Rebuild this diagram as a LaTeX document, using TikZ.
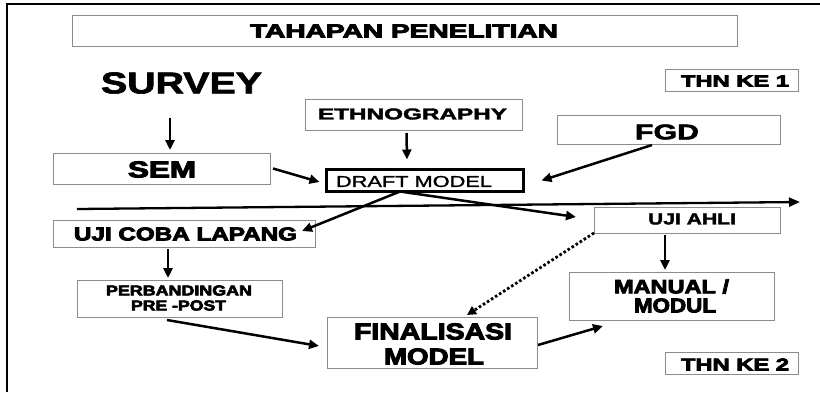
\documentclass[tikz,border=0pt]{standalone}
\usepackage{fontspec}
\setmainfont{Liberation Sans}
\newfontfamily\heavyfont[FakeBold=4]{Liberation Sans Bold}
\newfontfamily\boldfont[FakeBold=2]{Liberation Sans Bold}
\newfontfamily\regfont[FakeBold=1.2]{Liberation Sans}
\usetikzlibrary{arrows.meta}
\newcommand{\fittxt}[4]{\resizebox{#1pt}{#2pt}{#3#4}}
\tikzset{
  box/.style={draw=black!45, line width=0.9pt, inner sep=0pt, outer sep=0pt, fill=none},
  lbl/.style={inner sep=0pt, outer sep=0pt},
  arr/.style={line width=2.5pt, -{Triangle[length=10pt,width=9pt]}},
  dotarr/.style={line width=2.8pt, dash pattern=on 2.6pt off 2.2pt, -{Triangle[length=9pt,width=9pt]}}
}
\begin{document}
\begin{tikzpicture}[x=1pt,y=-1pt]
\useasboundingbox (0,0) rectangle (820,392);
\fill[white] (0,0) rectangle (820,392);
% outer frame
\draw[line width=1.6pt] (7,392) -- (7,4) -- (820,4);

% boxes
\node[box, minimum width=665pt, minimum height=31pt] (title) at (404.5,30.5) {};
\node[box, minimum width=217pt, minimum height=31pt] (sem) at (161.5,168.5) {};
\node[box, minimum width=217pt, minimum height=31pt] (ethno) at (413.5,114.5) {};
\node[draw=black, line width=3.2pt, inner sep=0pt, outer sep=0pt, minimum width=197pt, minimum height=22pt] (draft) at (425,180.5) {};
\node[box, minimum width=223pt, minimum height=29pt] (fgd) at (668.5,129.5) {};
\node[box, minimum width=133pt, minimum height=22pt] (thn1) at (731.5,80) {};
\node[box, minimum width=262pt, minimum height=27pt] (ujicoba) at (184,233.5) {};
\node[box, minimum width=205pt, minimum height=37pt] (perb) at (179.5,298.5) {};
\node[box, minimum width=210pt, minimum height=51pt] (final) at (432,342.5) {};
\node[box, minimum width=186pt, minimum height=26pt] (ujiahli) at (687,220) {};
\node[box, minimum width=205pt, minimum height=48pt] (manual) at (671.5,296) {};
\node[box, minimum width=133pt, minimum height=22pt] (thn2) at (731.5,363) {};

% labels
\node[lbl] (titleT) at (404,31) {\fittxt{308}{13}{\heavyfont}{TAHAPAN PENELITIAN}};
\node[lbl] (survey) at (181.5,83) {\fittxt{161}{21}{\boldfont}{SURVEY}};
\node[lbl] (semT) at (162,169.5) {\fittxt{68}{16}{\heavyfont}{SEM}};
\node[lbl] (ethnoT) at (412.5,114) {\fittxt{189}{11}{\boldfont}{ETHNOGRAPHY}};
\node[lbl] (draftT) at (414,181.5) {\fittxt{156}{11}{\regfont}{DRAFT MODEL}};
\node[lbl] (fgdT) at (667,132) {\fittxt{64}{15}{\boldfont}{FGD}};
\node[lbl] (thn1T) at (735,81) {\fittxt{108}{11}{\heavyfont}{THN KE 1}};
\node[lbl] (ujicobaT) at (185.5,234) {\fittxt{223}{13}{\heavyfont}{UJI COBA LAPANG}};
\node[lbl] (perbT1) at (179,290.5) {\fittxt{146}{10}{\heavyfont}{PERBANDINGAN}};
\node[lbl] (perbT2) at (178.5,305.5) {\fittxt{95}{10}{\heavyfont}{PRE -POST}};
\node[lbl] (finalT1) at (433,331.5) {\fittxt{158}{16}{\heavyfont}{FINALISASI}};
\node[lbl] (finalT2) at (434,356.5) {\fittxt{100}{16}{\heavyfont}{MODEL}};
\node[lbl] (ujiahliT) at (692,219) {\fittxt{88}{11}{\boldfont}{UJI AHLI}};
\node[lbl] (manualT1) at (671.5,286.5) {\fittxt{115}{14}{\heavyfont}{MANUAL /}};
\node[lbl] (manualT2) at (675,305.5) {\fittxt{82}{14}{\heavyfont}{MODUL}};
\node[lbl] (thn2T) at (735,364.5) {\fittxt{108}{12}{\heavyfont}{THN KE 2}};

% timeline
\coordinate (tlA) at (77,209);
\coordinate (tlB) at (800,202);
\draw[line width=2.3pt, -{Triangle[length=11pt,width=9pt]}] (tlA) -- (tlB);

% connectors
\draw[arr] ([xshift=-11.5pt,yshift=-24pt]survey.south) -- ([xshift=8.5pt,yshift=3pt]sem.north);
\draw[arr] ([xshift=-7pt,yshift=-3pt]ethno.south) -- ([xshift=-18pt,yshift=10pt]draft.north);
\draw[arr] ([xshift=3pt]sem.east) -- ([xshift=-7pt,yshift=-1.5pt]draft.west);
\draw[arr] ([xshift=-16.5pt,yshift=-1pt]fgd.south) -- ([xshift=18pt]draft.east);
\draw[arr] ([xshift=-25pt]draft.south) -- ([xshift=-13pt,yshift=2.5pt]ujicoba.east);
\draw[arr] ([xshift=-25pt]draft.south) -- ([xshift=-18pt,yshift=3pt]ujiahli.west);
\draw[arr] ([xshift=-16pt,yshift=-2pt]ujicoba.south) -- ([xshift=-11.5pt,yshift=2pt]perb.north);
\draw[arr] ([xshift=-12.5pt,yshift=-3pt]perb.south) -- ([xshift=-8pt,yshift=-3.5pt]final.west);
\draw[arr] ([xshift=1pt,yshift=-2.5pt]final.east) -- ([xshift=34pt,yshift=-6pt]manual.south west);
\draw[arr] ([xshift=-22pt,yshift=-2pt]ujiahli.south) -- ([xshift=-6.5pt,yshift=2pt]manual.north);
\draw[dotarr] (ujiahli.south west) -- ([xshift=35pt,yshift=2pt]final.north);
\end{tikzpicture}
\end{document}
